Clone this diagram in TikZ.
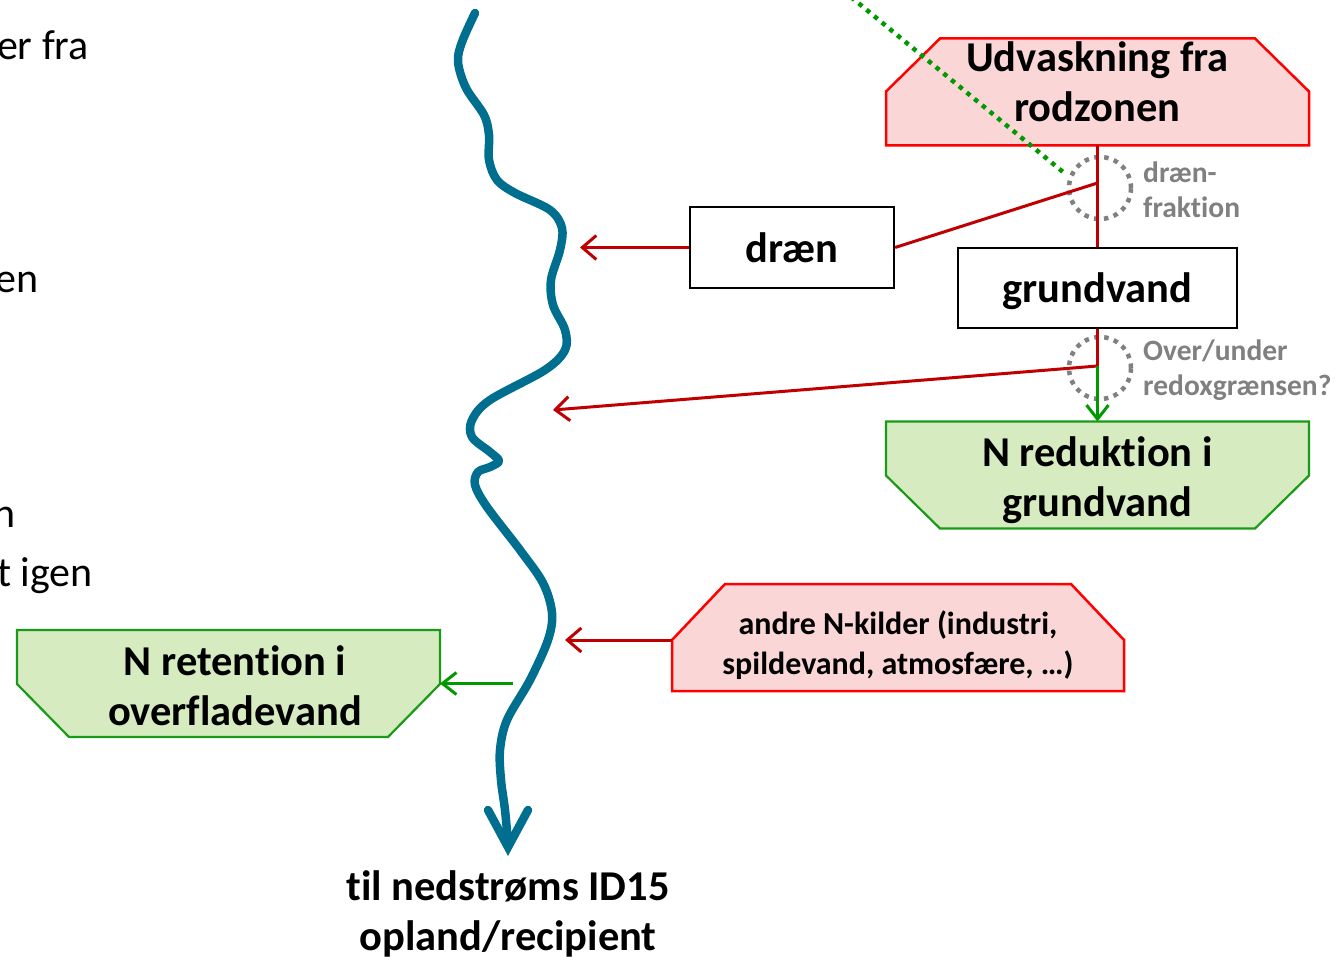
\documentclass[tikz,border=0pt]{standalone}
\usepackage{fontspec}
\setmainfont{Carlito}[Ligatures=CommonOff]
\usetikzlibrary{arrows.meta}
\definecolor{rline}{RGB}{192,0,0}
\definecolor{rbox}{RGB}{255,0,0}
\definecolor{rfill}{RGB}{250,214,214}
\definecolor{gline}{RGB}{0,153,0}
\definecolor{gbox}{RGB}{25,155,25}
\definecolor{gfill}{RGB}{214,235,192}
\definecolor{greytxt}{RGB}{128,128,128}
\definecolor{rivercol}{RGB}{0,111,143}
\begin{document}
\begin{tikzpicture}[x=1pt,y=-1pt,
  hidden/.style={inner sep=0pt, outer sep=0pt},
  redpoly/.style={draw=rbox, fill=rfill, line width=2.5pt, line join=miter},
  greenpoly/.style={draw=gbox, fill=gfill, line width=2.2pt, line join=miter},
  bigtxt/.style={font=\bfseries\fontsize{42.5}{50}\selectfont, align=center, inner sep=0pt},
  midtxt/.style={font=\bfseries\fontsize{32}{39.5}\selectfont, align=center, inner sep=0pt},
  greytext/.style={font=\bfseries\fontsize{29.5}{35}\selectfont, text=greytxt, align=left, inner sep=0pt},
  lefttxt/.style={font=\fontsize{42}{50}\selectfont, inner sep=0pt},
  blackbox/.style={draw=black, line width=2.2pt, fill=white, inner sep=0pt, font=\bfseries\fontsize{42.5}{50}\selectfont},
  dotcircle/.style={circle, draw=greytxt, line width=4.5pt, dash pattern=on 4.5pt off 5.5pt, minimum size=62pt, inner sep=0pt},
  redline/.style={draw=rline, line width=3pt},
  redarrow/.style={draw=rline, line width=3pt, -{Straight Barb[length=14pt,width=24pt]}},
  greenarrow/.style={draw=gline, line width=3pt, -{Straight Barb[length=14pt,width=22pt]}},
  river/.style={draw=rivercol, line width=8.5pt, line cap=round, line join=round}
]
\useasboundingbox (0,0) rectangle (1335,957);

% left cut-off texts
\node[lefttxt, anchor=base east] (l1) at (89,60) {er fra};
\node[lefttxt, anchor=base east] (l2) at (39,293) {en};
\node[lefttxt, anchor=base east] (l3) at (16,527) {n};
\node[lefttxt, anchor=base east] (l4) at (93,586) {t igen};

% river
\draw[river] plot[smooth, tension=0.55] coordinates {
 (475,13) (462,42) (458,62) (466,88) (484,115) (489,135) (489,160) (497,180)
 (515,193) (550,210) (562,228) (560,250) (551,280) (553,305) (565,330) (565,350)
 (545,370) (490,400) (472,420) (472,437) (490,452) (499,461) (490,467) (478,472)
 (475,485) (487,507) (520,550) (543,583) (552,613) (548,640) (530,680) (507,720)
 (500,750) (501,780) (505,810) (508,843)};
\draw[river, line join=miter] (488,810) -- (508,847) -- (528,810);

% Udvaskning box
\node[hidden, minimum width=423pt, minimum height=107pt] (udv) at (1097.5,92) {};
\draw[redpoly] (udv.south west) -- ([yshift=-53pt]udv.north west) -- ([xshift=54pt]udv.north west)
  -- ([xshift=-54pt]udv.north east) -- ([yshift=-53pt]udv.north east) -- (udv.south east) -- cycle;
\node[bigtxt] (udvt) at (1097.5,82) {Udvaskning fra\\rodzonen};

% dotted circles
\node[dotcircle] (c1) at (1100,188) {};
\node[dotcircle] (c2) at (1100,368) {};

% green dotted line
\coordinate (g0) at (851,-3);
\coordinate (g1) at (1063,172);
\draw[draw=gline, line width=4.5pt, dash pattern=on 4.5pt off 5.5pt] (g0) -- (g1);

% boxes
\node[blackbox, minimum width=204pt, minimum height=81pt] (draen) at (792,247.5) {dræn};
\node[blackbox, minimum width=279pt, minimum height=80pt, text depth=1pt] (gv) at (1097.5,288) {grundvand};

% N reduktion box
\node[hidden, minimum width=423pt, minimum height=107pt] (nred) at (1097.5,475) {};
\draw[greenpoly] (nred.north west) -- (nred.north east) -- ([yshift=53pt]nred.south east)
  -- ([xshift=-54pt]nred.south east) -- ([xshift=54pt]nred.south west) -- ([yshift=53pt]nred.south west) -- cycle;
\node[bigtxt] (nredt) at (1097.5,480) {N reduktion i\\grundvand};

% andre N-kilder box
\node[hidden, minimum width=452pt, minimum height=107pt] (andre) at (898,637.5) {};
\draw[redpoly] (andre.south west) -- ([yshift=-56pt]andre.north west) -- ([xshift=53pt]andre.north west)
  -- ([xshift=-53pt]andre.north east) -- ([yshift=-56pt]andre.north east) -- (andre.south east) -- cycle;
\node[midtxt] (andret) at (898,645) {andre N-kilder (industri,\\spildevand, atmosfære, …)};

% N retention box
\node[hidden, minimum width=423pt, minimum height=107pt] (nret) at (228.5,683.5) {};
\draw[greenpoly] (nret.north west) -- (nret.north east) -- ([yshift=53pt]nret.south east)
  -- ([xshift=-52pt]nret.south east) -- ([xshift=52pt]nret.south west) -- ([yshift=53pt]nret.south west) -- cycle;
\node[bigtxt] (nrett) at (235,686) {N retention i\\overfladevand};

% grey labels
\node[greytext, anchor=west] (lab1) at (1143,190) {dræn-\\fraktion};
\node[greytext, anchor=west] (lab2) at (1143,370) {Over/under\\redoxgrænsen?};

% bottom text
\node[bigtxt] (bot) at (508,914) {til nedstrøms ID15\\opland/recipient};

% connectors
\coordinate (j1) at (1097.5,183);
\coordinate (j2) at (1097.5,366);
\coordinate (t1) at (580,247.5);
\coordinate (t2) at (553,410);
\coordinate (t3) at (565,640);
\coordinate (s4) at (513,683.5);
\draw[redline] (udv.south) -- (gv.north);
\draw[redline] (draen.east) -- (j1);
\draw[redarrow] (draen.west) -- (t1);
\draw[redline] (gv.south) -- (j2);
\draw[redarrow] (j2) -- (t2);
\draw[greenarrow] (j2) -- (nred.north);
\draw[redarrow] ([yshift=-2.5pt]andre.west) -- (t3);
\draw[greenarrow] (s4) -- (nret.east);
\end{tikzpicture}
\end{document}
